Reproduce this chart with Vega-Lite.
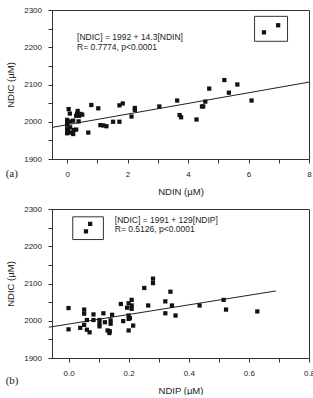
{
  "$schema": "https://vega.github.io/schema/vega-lite/v6.json",
  "background": "white",
  "padding": {"left": 5, "top": 5, "right": 0, "bottom": 0},
  "config": {
    "font": "Liberation Sans",
    "view": {"stroke": "#333", "strokeWidth": 1},
    "axis": {
      "grid": false,
      "domainColor": "#333",
      "tickColor": "#333",
      "labelColor": "#222",
      "titleColor": "#222",
      "labelFont": "Liberation Sans",
      "titleFont": "Liberation Sans",
      "labelFontSize": 8,
      "titleFontSize": 9.5,
      "titleFontWeight": "normal",
      "tickSize": 4,
      "labelFlush": false,
      "labelOverlap": false
    },
    "axisY": {"labelPadding": 6.5, "titlePadding": 8},
    "axisX": {"labelPadding": 7, "titlePadding": 8}
  },
  "datasets": {
    "a_points": [
      {"x": 0.0, "y": 2005}, {"x": 0.0, "y": 1992}, {"x": 0.0, "y": 1980}, {"x": 0.0, "y": 1969},
      {"x": 0.0, "y": 1997}, {"x": 0.03, "y": 1975}, {"x": 0.05, "y": 2034}, {"x": 0.09, "y": 2022},
      {"x": 0.1, "y": 1985}, {"x": 0.1, "y": 2001}, {"x": 0.13, "y": 1971}, {"x": 0.2, "y": 2003},
      {"x": 0.2, "y": 1967}, {"x": 0.22, "y": 1978}, {"x": 0.3, "y": 2016}, {"x": 0.3, "y": 1979},
      {"x": 0.33, "y": 2022}, {"x": 0.35, "y": 2029}, {"x": 0.38, "y": 2001}, {"x": 0.4, "y": 2016},
      {"x": 0.45, "y": 2021}, {"x": 0.5, "y": 2019}, {"x": 0.7, "y": 1971}, {"x": 0.8, "y": 2045},
      {"x": 1.03, "y": 2036}, {"x": 1.1, "y": 1991}, {"x": 1.2, "y": 1990}, {"x": 1.3, "y": 1988},
      {"x": 1.52, "y": 2000}, {"x": 1.73, "y": 2000}, {"x": 1.73, "y": 2044}, {"x": 1.84, "y": 2049},
      {"x": 2.13, "y": 2014}, {"x": 2.24, "y": 2037}, {"x": 2.24, "y": 2032}, {"x": 3.05, "y": 2041},
      {"x": 3.64, "y": 2057}, {"x": 3.72, "y": 2018}, {"x": 3.77, "y": 2012}, {"x": 4.28, "y": 2006},
      {"x": 4.46, "y": 2041}, {"x": 4.5, "y": 2041}, {"x": 4.57, "y": 2054}, {"x": 4.7, "y": 2089},
      {"x": 5.2, "y": 2112}, {"x": 5.35, "y": 2078}, {"x": 5.63, "y": 2100}, {"x": 6.1, "y": 2057},
      {"x": 6.51, "y": 2240}, {"x": 6.98, "y": 2259}
    ],
    "a_fit": [{"x": -0.5, "y": 1984.85}, {"x": 8, "y": 2106.4}],
    "a_box": [{"x": 6.2, "x2": 7.29, "y": 2216, "y2": 2283}],
    "a_text": [
      {"x": 0.33, "y": 2228, "label": "[NDIC] = 1992 + 14.3[NDIN]"},
      {"x": 0.33, "y": 2200, "label": "R= 0.7774, p<0.0001"}
    ],
    "b_points": [
      {"x": 0.0, "y": 2034}, {"x": 0.0, "y": 1977}, {"x": 0.039, "y": 1981}, {"x": 0.052, "y": 2030},
      {"x": 0.052, "y": 2019}, {"x": 0.052, "y": 1989}, {"x": 0.061, "y": 2002}, {"x": 0.061, "y": 1976},
      {"x": 0.07, "y": 1969}, {"x": 0.083, "y": 2017}, {"x": 0.083, "y": 2002}, {"x": 0.103, "y": 2002},
      {"x": 0.103, "y": 1992}, {"x": 0.103, "y": 1985}, {"x": 0.116, "y": 2020}, {"x": 0.121, "y": 1996},
      {"x": 0.13, "y": 1974}, {"x": 0.136, "y": 1967}, {"x": 0.137, "y": 1972}, {"x": 0.14, "y": 1992},
      {"x": 0.14, "y": 2001}, {"x": 0.145, "y": 2016}, {"x": 0.174, "y": 2045}, {"x": 0.182, "y": 1999},
      {"x": 0.195, "y": 2035}, {"x": 0.2, "y": 2047}, {"x": 0.2, "y": 2014}, {"x": 0.2, "y": 2005},
      {"x": 0.204, "y": 2007}, {"x": 0.2, "y": 1974}, {"x": 0.21, "y": 2032}, {"x": 0.21, "y": 2056},
      {"x": 0.21, "y": 2041}, {"x": 0.215, "y": 1987}, {"x": 0.252, "y": 2088}, {"x": 0.265, "y": 2041},
      {"x": 0.281, "y": 2113}, {"x": 0.281, "y": 2101}, {"x": 0.322, "y": 2020}, {"x": 0.322, "y": 2052},
      {"x": 0.339, "y": 2078}, {"x": 0.344, "y": 2041}, {"x": 0.356, "y": 2014}, {"x": 0.436, "y": 2041},
      {"x": 0.516, "y": 2056}, {"x": 0.524, "y": 2030}, {"x": 0.628, "y": 2025},
      {"x": 0.058, "y": 2240}, {"x": 0.072, "y": 2260}
    ],
    "b_fit": [{"x": -0.065, "y": 1982.6}, {"x": 0.69, "y": 2080.0}],
    "b_box": [{"x": 0.014, "x2": 0.116, "y": 2218, "y2": 2279}],
    "b_text": [
      {"x": 0.154, "y": 2271, "label": "[NDIC] = 1991 + 129[NDIP]"},
      {"x": 0.154, "y": 2245, "label": "R= 0.5126, p<0.0001"}
    ]
  },
  "bounds": "flush",
  "spacing": 50,
  "vconcat": [
    {
      "width": 257,
      "height": 149,
      "title": {"text": "(a)", "orient": "bottom", "anchor": "start", "font": "Liberation Serif", "fontSize": 11, "fontWeight": "normal", "color": "#222", "offset": 0, "dy": -28},
      "encoding": {
        "x": {
          "field": "x", "type": "quantitative", "title": "NDIN (µM)",
          "scale": {"domain": [-0.5, 8], "nice": false, "zero": false},
          "axis": {"values": [0, 1, 2, 3, 4, 5, 6, 7, 8], "format": "d", "labelExpr": "datum.value % 2 === 0 ? datum.label : ''"}
        },
        "y": {
          "field": "y", "type": "quantitative", "title": "NDIC (µM)",
          "scale": {"domain": [1900, 2300], "nice": false, "zero": false},
          "axis": {"values": [1900, 1950, 2000, 2050, 2100, 2150, 2200, 2250, 2300], "format": "d", "labelExpr": "datum.value % 100 === 0 ? datum.label : ''"}
        }
      },
      "layer": [
        {
          "data": {"name": "a_box"},
          "mark": {"type": "rect", "fill": null, "stroke": "#333", "strokeWidth": 1},
          "encoding": {"x2": {"field": "x2"}, "y2": {"field": "y2"}}
        },
        {
          "data": {"name": "a_fit"},
          "mark": {"type": "line", "color": "#222", "strokeWidth": 1},
          "encoding": {}
        },
        {
          "data": {"name": "a_points"},
          "mark": {"type": "point", "shape": "square", "filled": true, "size": 18, "color": "#111", "opacity": 1}
        },
        {
          "data": {"name": "a_text"},
          "mark": {"type": "text", "align": "left", "baseline": "middle", "fontSize": 8.5, "color": "#222"},
          "encoding": {"text": {"field": "label"}}
        }
      ]
    },
    {
      "width": 257,
      "height": 149,
      "title": {"text": "(b)", "orient": "bottom", "anchor": "start", "font": "Liberation Serif", "fontSize": 11, "fontWeight": "normal", "color": "#222", "offset": 0, "dy": -20},
      "encoding": {
        "x": {
          "field": "x", "type": "quantitative", "title": "NDIP (µM)",
          "scale": {"domain": [-0.055, 0.8], "nice": false, "zero": false},
          "axis": {"values": [0, 0.1, 0.2, 0.3, 0.4, 0.5, 0.6, 0.7, 0.8], "labelExpr": "round(datum.value * 10) % 2 === 0 ? format(datum.value, '.1f') : ''"}
        },
        "y": {
          "field": "y", "type": "quantitative", "title": "NDIC (µM)",
          "scale": {"domain": [1900, 2300], "nice": false, "zero": false},
          "axis": {"values": [1900, 1950, 2000, 2050, 2100, 2150, 2200, 2250, 2300], "format": "d", "labelExpr": "datum.value % 100 === 0 ? datum.label : ''"}
        }
      },
      "layer": [
        {
          "data": {"name": "b_box"},
          "mark": {"type": "rect", "fill": null, "stroke": "#333", "strokeWidth": 1},
          "encoding": {"x2": {"field": "x2"}, "y2": {"field": "y2"}}
        },
        {
          "data": {"name": "b_fit"},
          "mark": {"type": "line", "color": "#222", "strokeWidth": 1},
          "encoding": {}
        },
        {
          "data": {"name": "b_points"},
          "mark": {"type": "point", "shape": "square", "filled": true, "size": 18, "color": "#111", "opacity": 1}
        },
        {
          "data": {"name": "b_text"},
          "mark": {"type": "text", "align": "left", "baseline": "middle", "fontSize": 8.5, "color": "#222"},
          "encoding": {"text": {"field": "label"}}
        }
      ]
    }
  ]
}
